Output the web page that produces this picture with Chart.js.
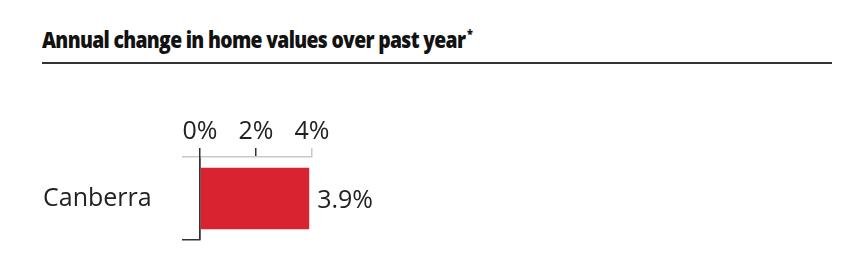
<!DOCTYPE html>
<html>
<head>
<meta charset="utf-8">
<script src="https://cdn.jsdelivr.net/npm/chart.js@4/dist/chart.umd.min.js"></script>
<style>
  html, body { margin: 0; padding: 0; background: #fff; }
  #wrap { position: relative; width: 860px; height: 274px; overflow: hidden; }
  #title { position: absolute; left: 42px; top: 23px; margin: 0; font-family: "Open Sans", sans-serif; font-weight: 800; font-size: 23px; line-height: normal; color: #121212; letter-spacing: -0.8px; white-space: nowrap; transform: scaleX(0.84); transform-origin: 0 0; }
  #title sup { font-size: 13px; position: relative; top: -1px; margin-left: 2px; }
  #rule { position: absolute; left: 42px; top: 62px; width: 790px; height: 2px; background: #333; }
  canvas { position: absolute; left: 0; top: 0; }
</style>
</head>
<body>
<div id="wrap">
  <h2 id="title">Annual change in home values over past year<sup>*</sup></h2>
  <div id="rule"></div>
  <canvas id="c" width="860" height="274"></canvas>
</div>
<script>
const categories = ["Canberra"];
const changeValues = [3.9];
const tickValues = [0, 2, 4];
const tickLabels = ["0%", "2%", "4%"];

const DARK = "#333333";
const LIGHT = "#c8c8c8";
const RED = "#da2330";
const FONT = "'Open Sans', sans-serif";

const valueLabels = {
  id: "valueLabels",
  afterDatasetsDraw(chart) {
    const ctx = chart.ctx;
    const meta = chart.getDatasetMeta(0);
    ctx.save();
    ctx.font = "25px " + FONT;
    ctx.fillStyle = "#222";
    ctx.textAlign = "left";
    ctx.textBaseline = "middle";
    meta.data.forEach((bar, i) => {
      ctx.fillText(changeValues[i] + "%", bar.x + 8, bar.y + 2);
    });
    ctx.restore();
  }
};

new Chart(document.getElementById("c"), {
  type: "bar",
  data: {
    labels: categories,
    datasets: [{
      data: changeValues,
      backgroundColor: RED,
      borderWidth: 0,
      barPercentage: 0.74,
      categoryPercentage: 1
    }]
  },
  options: {
    indexAxis: "y",
    responsive: false,
    animation: false,
    devicePixelRatio: 1,
    layout: { padding: { left: 43, right: 548, top: 100, bottom: 34 } },
    plugins: { legend: { display: false }, tooltip: { enabled: false }, title: { display: false } },
    scales: {
      x: {
        position: "top",
        min: 0,
        max: 4,
        afterBuildTicks(scale) { scale.ticks = tickValues.map(v => ({ value: v })); },
        afterFit(scale) { scale.height = 57; },
        ticks: {
          padding: 1,
          color: "#222",
          font: { family: FONT, size: 25 },
          maxRotation: 0,
          callback(v) { const i = tickValues.indexOf(v); return i >= 0 ? tickLabels[i] : ""; }
        },
        grid: {
          drawOnChartArea: true,
          color: ctx => (ctx.tick && ctx.tick.value === 0) ? DARK : "rgba(0,0,0,0)",
          tickColor: ctx => (ctx.tick && ctx.tick.value === 4) ? LIGHT : DARK,
          tickLength: 9,
          lineWidth: 1.5,
          tickWidth: 1.5
        },
        border: { display: true, color: LIGHT, width: 1.5 }
      },
      y: {
        position: "left",
        afterFit(scale) { scale.width = 157; },
        ticks: {
          crossAlign: "far",
          color: "#222",
          font: { family: FONT, size: 25 },
          padding: 0
        },
        grid: {
          offset: true,
          drawOnChartArea: false,
          tickLength: 18,
          tickColor: ctx => ctx.index === 0 ? LIGHT : DARK,
          color: ctx => ctx.index === 0 ? LIGHT : DARK,
          tickWidth: 1.5,
          lineWidth: 1.5
        },
        border: { display: true, color: DARK, width: 1.5 }
      }
    }
  },
  plugins: [valueLabels]
});
</script>
</body>
</html>
